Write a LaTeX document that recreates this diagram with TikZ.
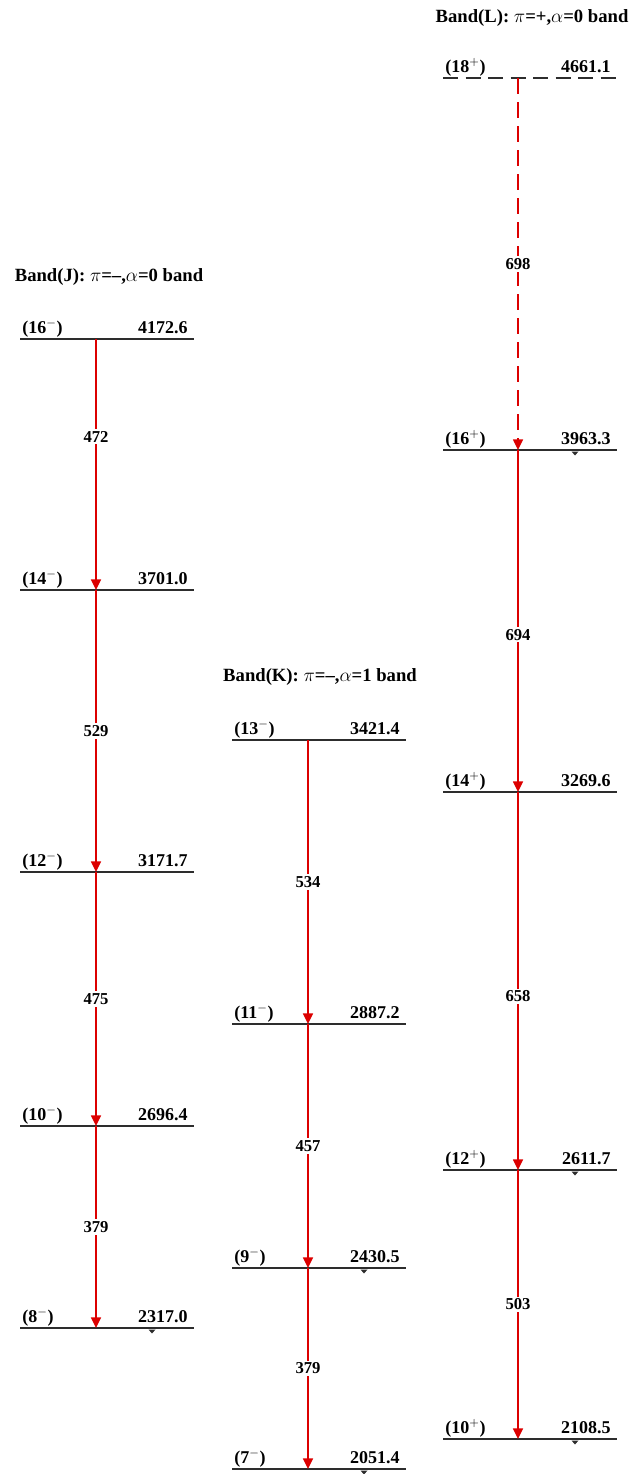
\documentclass[tikz,border=0pt]{standalone}
\usepackage{fontspec}
\setmainfont{Liberation Serif}
\usetikzlibrary{arrows.meta}
\definecolor{arrred}{RGB}{220,0,0}
\definecolor{lvlgray}{RGB}{45,45,45}
\newcommand\mylev[6]{%
  \draw[lvl] (#2,#3) -- ++(174,0);
  \coordinate (#1) at (#6,#3);
  \node[lvltext, anchor=base west] (#1s) at (#2+2,#3-6) {(#4)};
  \node[lvltext, anchor=base east] (#1e) at (#2+168,#3-6) {#5};
}
\newcommand\mymark[2]{%
  \fill[lvlgray] (#1-3.5,#2+1.5) -- (#1+3.5,#2+1.5) -- (#1,#2+5.5) -- cycle;
}
\begin{document}
\begin{tikzpicture}[x=0.75pt,y=-0.75pt,
  lvl/.style={draw=lvlgray, line width=1pt},
  lvldashed/.style={lvl, dash pattern=on 11.25pt off 5.625pt},
  lvltext/.style={inner sep=0pt, font=\fontsize{13.5}{16}\selectfont\bfseries},
  trans/.style={draw=arrred, line width=1.1pt, -{Triangle[length=8pt,width=7.5pt,fill=arrred]}},
  transdashed/.style={trans, dash pattern=on 12pt off 6pt},
  tlab/.style={fill=white, inner sep=1.5pt, font=\fontsize{12.5}{14}\selectfont\bfseries},
  title/.style={inner sep=0pt, font=\fontsize{14}{16}\selectfont\bfseries}
]
\useasboundingbox (0,0) rectangle (632,1474);

% titles
\node[title] (tJ) at (109,277) {Band(J): $\pi$=–,$\alpha$=0 band};
\node[title] (tK) at (320,677) {Band(K): $\pi$=–,$\alpha$=1 band};
\node[title] (tL) at (532,18) {Band(L): $\pi$=+,$\alpha$=0 band};

% Band J
\mylev{J16}{20}{339}{16$^{-}$}{4172.6}{96}
\mylev{J14}{20}{590}{14$^{-}$}{3701.0}{96}
\mylev{J12}{20}{872}{12$^{-}$}{3171.7}{96}
\mylev{J10}{20}{1126}{10$^{-}$}{2696.4}{96}
\mylev{J8}{20}{1328}{8$^{-}$}{2317.0}{96}
\mymark{152}{1328}

% Band K
\mylev{K13}{232}{740}{13$^{-}$}{3421.4}{308}
\mylev{K11}{232}{1024}{11$^{-}$}{2887.2}{308}
\mylev{K9}{232}{1268}{9$^{-}$}{2430.5}{308}
\mylev{K7}{232}{1469}{7$^{-}$}{2051.4}{308}
\mymark{364}{1268}
\mymark{364}{1469}

% Band L
\draw[lvldashed] (443,78) -- ++(174,0);
\coordinate (L18) at (518,78);
\node[lvltext, anchor=base west] (L18s) at (445,72) {(18$^{+}$)};
\node[lvltext, anchor=base east] (L18e) at (611,72) {4661.1};
\mylev{L16}{443}{450}{16$^{+}$}{3963.3}{518}
\mylev{L14}{443}{792}{14$^{+}$}{3269.6}{518}
\mylev{L12}{443}{1170}{12$^{+}$}{2611.7}{518}
\mylev{L10}{443}{1439}{10$^{+}$}{2108.5}{518}
\mymark{575}{450}
\mymark{575}{1170}
\mymark{575}{1439}

% transitions J
\draw[trans] (J16) -- node[tlab, pos=0.39] (gJ1) {472} (J14);
\draw[trans] (J14) -- node[tlab] (gJ2) {529} (J12);
\draw[trans] (J12) -- node[tlab] (gJ3) {475} (J10);
\draw[trans] (J10) -- node[tlab] (gJ4) {379} (J8);

% transitions K
\draw[trans] (K13) -- node[tlab] (gK1) {534} (K11);
\draw[trans] (K11) -- node[tlab] (gK2) {457} (K9);
\draw[trans] (K9) -- node[tlab] (gK3) {379} (K7);

% transitions L
\draw[transdashed] (L18) -- node[tlab] (gL1) {698} (L16);
\draw[trans] (L16) -- node[tlab, pos=0.54] (gL2) {694} (L14);
\draw[trans] (L14) -- node[tlab, pos=0.54] (gL3) {658} (L12);
\draw[trans] (L12) -- node[tlab] (gL4) {503} (L10);
\end{tikzpicture}
\end{document}
